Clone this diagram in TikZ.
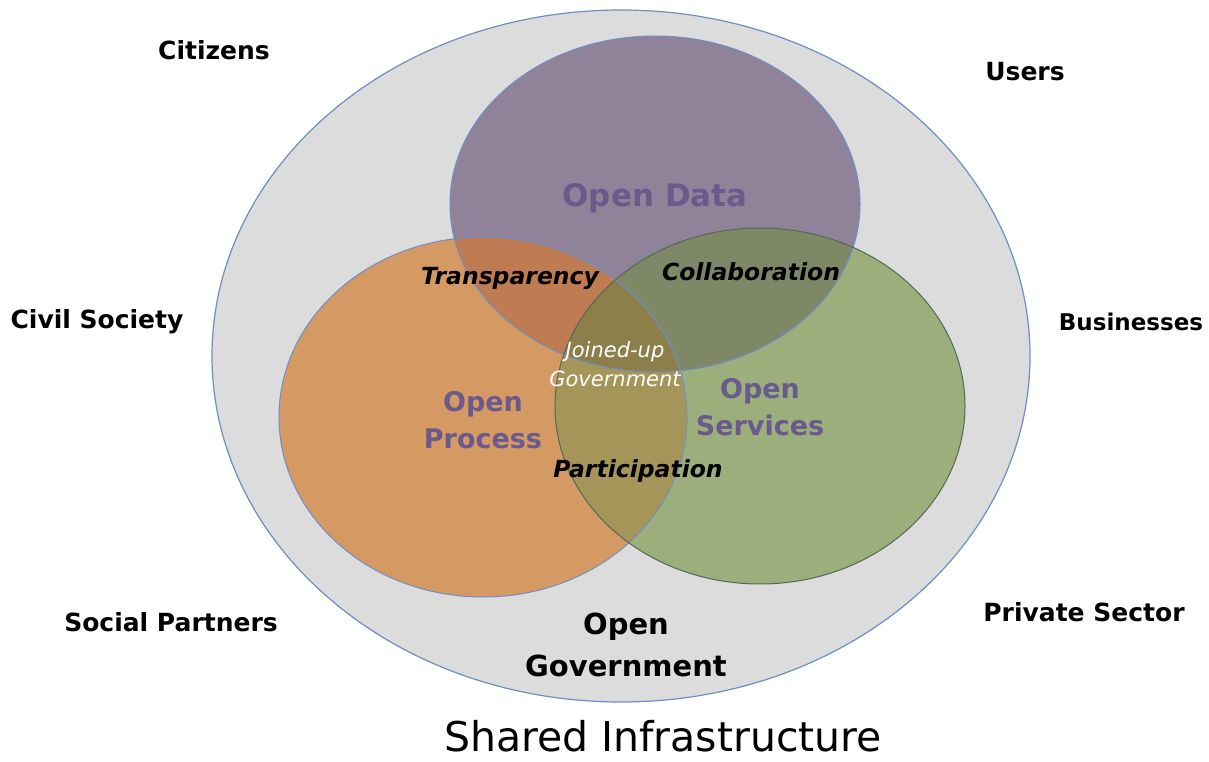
\documentclass[tikz,border=0pt]{standalone}
\usepackage{fontspec}
\setmainfont{DejaVu Sans}
\usetikzlibrary{positioning}
\definecolor{bgray}{HTML}{DCDCDC}
\definecolor{edgeblue}{HTML}{6F8FC4}
\definecolor{cpurple}{HTML}{8F8299}
\definecolor{corange}{HTML}{D59964}
\definecolor{cgreen}{HTML}{9BAE7B}
\definecolor{cop}{HTML}{BF7B52}
\definecolor{cpg}{HTML}{7F8866}
\definecolor{cog}{HTML}{A59559}
\definecolor{call}{HTML}{8C7F4A}
\definecolor{ptext}{HTML}{6A5A8C}
\definecolor{gedge}{HTML}{4F6A55}
\tikzset{
  lbl/.style={font=\bfseries\fontsize{25}{30}\selectfont, text=black, align=center},
  setlbl/.style={font=\bfseries\fontsize{27}{37}\selectfont, text=ptext, align=center},
  ovl/.style={font=\bfseries\itshape\fontsize{23.5}{28}\selectfont, text=black, align=center},
}
\begin{document}
\begin{tikzpicture}[x=1pt,y=-1pt]
\useasboundingbox (0,0) rectangle (1209,762);
\fill[white] (0,0) rectangle (1209,762);
% outer
\draw[edgeblue, line width=1.2pt, fill=bgray] (621,356) ellipse [x radius=409, y radius=346];
% single sets
\fill[corange] (483,417) ellipse [x radius=204, y radius=180];
\fill[cpurple] (655,204) ellipse [x radius=205, y radius=168];
\fill[cgreen] (760,406) ellipse [x radius=205, y radius=178];
% pairwise
\begin{scope}
  \clip (483,417) ellipse [x radius=204, y radius=180];
  \fill[cop] (655,204) ellipse [x radius=205, y radius=168];
  \fill[cog] (760,406) ellipse [x radius=205, y radius=178];
  \clip (655,204) ellipse [x radius=205, y radius=168];
  \fill[call] (760,406) ellipse [x radius=205, y radius=178];
\end{scope}
\begin{scope}
  \clip (655,204) ellipse [x radius=205, y radius=168];
  \clip (760,406) ellipse [x radius=205, y radius=178];
  \fill[cpg] (0,0) rectangle (1209,762);
  \clip (483,417) ellipse [x radius=204, y radius=180];
  \fill[call] (0,0) rectangle (1209,762);
\end{scope}
% outlines
\draw[edgeblue, line width=1pt] (483,417) ellipse [x radius=204, y radius=180];
\draw[edgeblue, line width=1pt] (655,204) ellipse [x radius=205, y radius=168];
\draw[gedge, line width=1pt] (760,406) ellipse [x radius=205, y radius=178];
% outside labels
\node[lbl] (citizens) at (214,50) {Citizens};
\node[lbl] (users) at (1025,72) {Users};
\node[lbl] (civil) at (97,322) {Civil Society};
\node[lbl, font=\bfseries\fontsize{23}{28}\selectfont] (business) at (1131,322) {Businesses};
\node[lbl] (social) at (171,622) {Social Partners};
\node[lbl] (private) at (1084,612) {Private Sector};
\node[font=\bfseries\fontsize{29}{42}\selectfont, align=center] (opengov) at (626,645) {Open\\Government};
\node[font=\fontsize{41}{44}\selectfont, inner sep=0pt] (shared) at (663,736) {Shared Infrastructure};
% set labels
\node[font=\bfseries\fontsize{31}{37}\selectfont, text=ptext] (data) at (655,198) {Open Data};
\node[setlbl] (process) at (483,420) {Open\\Process};
\node[setlbl] (services) at (760,407) {Open\\Services};
% overlap labels
\node[ovl] (transp) at (510,278) {Transparency};
\node[ovl] (collab) at (751,272) {Collaboration};
\node[ovl] (partic) at (638,471) {Participation};
\node[font=\itshape\fontsize{21}{29}\selectfont, text=white, align=center] (joined) at (615,364) {Joined-up\\Government};
\end{tikzpicture}
\end{document}
